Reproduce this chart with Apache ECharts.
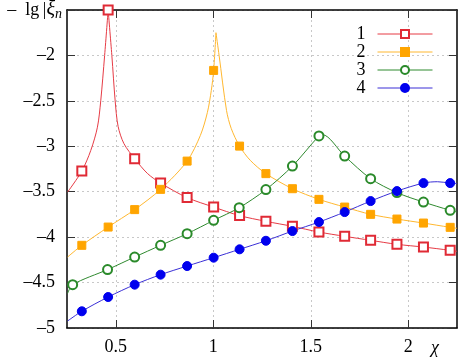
<!DOCTYPE html>
<html>
<head>
<meta charset="utf-8">
<script src="https://cdn.jsdelivr.net/npm/echarts@6/dist/echarts.min.js"></script>
<style>
  html, body { margin: 0; padding: 0; background: #fff; }
  #chart { width: 460px; height: 357px; }
</style>
</head>
<body>
<div id="chart"></div>
<script>
var xTicks = [0.5, 1, 1.5, 2];
var names = ['1', '2', '3', '4'];

// markers
var marks1 = [[0.326,-3.273],[0.461,-1.5],[0.597,-3.136],[0.730,-3.405],[0.866,-3.565],[1.002,-3.669],[1.135,-3.763],[1.270,-3.826],[1.406,-3.881],[1.542,-3.944],[1.674,-3.991],[1.807,-4.035],[1.942,-4.079],[2.078,-4.109],[2.215,-4.145]];
var marks2 = [[0.326,-4.090],[0.461,-3.889],[0.597,-3.697],[0.730,-3.474],[0.866,-3.163],[1.002,-2.165],[1.135,-2.998],[1.270,-3.301],[1.406,-3.467],[1.542,-3.584],[1.674,-3.669],[1.807,-3.749],[1.942,-3.801],[2.078,-3.845],[2.215,-3.892]];
var marks3 = [[0.279,-4.523],[0.458,-4.357],[0.597,-4.219],[0.730,-4.090],[0.866,-3.962],[1.002,-3.815],[1.133,-3.676],[1.270,-3.477],[1.406,-3.218],[1.542,-2.886],[1.674,-3.108],[1.807,-3.356],[1.942,-3.510],[2.078,-3.614],[2.215,-3.705]];
var marks4 = [[0.326,-4.816],[0.461,-4.659],[0.597,-4.523],[0.730,-4.413],[0.866,-4.318],[1.002,-4.226],[1.135,-4.134],[1.270,-4.040],[1.406,-3.933],[1.542,-3.834],[1.674,-3.724],[1.807,-3.603],[1.942,-3.493],[2.078,-3.405],[2.215,-3.405]];

// extra points on the curves between markers
var extra1 = [[0.253,-3.504],[0.372,-3.045],[0.406,-2.79],[0.423,-2.50],[0.443,-2.0],[0.480,-2.0],[0.497,-2.50],[0.512,-2.78],[0.542,-2.971],[0.662,-3.298],[2.250,-4.156]];
var extra2 = [[0.253,-4.219],[0.934,-2.88],[0.970,-2.627],[0.990,-2.385],[1.014,-1.75],[1.030,-2.0],[1.068,-2.605],[1.092,-2.803],[1.190,-3.155],[2.250,-3.903]];
var extra3 = [[0.253,-4.62],[1.560,-2.872],[2.250,-3.724]];
var extra4 = [[0.253,-4.923],[2.150,-3.390],[2.250,-3.410]];

var marks = [marks1, marks2, marks3, marks4];
var extras = [extra1, extra2, extra3, extra4];
var cusp = [true, true, false, false];

var lineColors = ['#e63b45', '#ffb830', '#2f8a2f', '#3a2fd6'];
var markColors = ['#e02a35', '#ffa500', '#2a8a2a', '#0000ee'];
var symbols = ['emptyRect', 'rect', 'emptyCircle', 'circle'];
var symbolSizes = [9, 8, 9, 9];

var serif = 'Liberation Serif';

function fmt(v) {
  return String(v).replace('-', '\u2013');
}

var series = [];
names.forEach(function(n, i) {
  series.push({
    name: n,
    type: 'line',
    data: marks[i],
    symbol: symbols[i],
    symbolSize: symbolSizes[i],
    showAllSymbol: true,
    lineStyle: { opacity: 0 },
    itemStyle: { color: markColors[i], borderColor: markColors[i], borderWidth: 1 },
    z: 5,
    silent: true
  });
  var pts = marks[i].concat(extras[i]).sort(function(a, b) { return a[0] - b[0]; });
  var branches = [pts];
  if (cusp[i]) {
    var top = 0;
    pts.forEach(function(p, k) { if (p[1] > pts[top][1]) top = k; });
    branches = [pts.slice(0, top + 1), pts.slice(top)];
  }
  branches.forEach(function(b) {
    series.push({
      name: n,
      type: 'line',
      data: b,
      symbol: 'none',
      smooth: 0.3,
      lineStyle: { color: lineColors[i], width: 1 },
      itemStyle: { color: lineColors[i] },
      z: 3,
      silent: true
    });
  });
});

var chart = echarts.init(document.getElementById('chart'), null, { renderer: 'canvas' });
chart.setOption({
  animation: false,
  backgroundColor: '#fff',
  grid: { left: 67, right: 3, top: 10, bottom: 29 },
  legend: {
    orient: 'vertical',
    right: 22,
    top: 20,
    align: 'right',
    itemWidth: 55,
    itemHeight: 10,
    itemGap: 0,
    selectedMode: false,
    data: names.map(function(n, i) {
      return { name: n, lineStyle: { opacity: 1, width: 1, color: lineColors[i] } };
    }),
    textStyle: { fontFamily: serif, fontSize: 18, lineHeight: 18, color: '#000', padding: [0, 7, 0, 0] }
  },
  xAxis: [{
    type: 'value',
    position: 'bottom',
    min: 0.25,
    max: 2.25,
    axisLine: { onZero: false, lineStyle: { color: '#000', width: 1.5 } },
    axisTick: { inside: true, length: 8, customValues: xTicks, lineStyle: { color: '#333' } },
    axisLabel: {
      customValues: xTicks, margin: 10, color: '#000',
      fontFamily: serif, fontSize: 18, formatter: fmt
    },
    splitLine: { show: true, lineStyle: { color: '#c8c8c8', type: [2, 3] } }
  }, {
    type: 'value',
    position: 'top',
    min: 0.25,
    max: 2.25,
    axisLine: { onZero: false, lineStyle: { color: '#000', width: 1.5 } },
    axisTick: { inside: true, length: 8, customValues: xTicks, lineStyle: { color: '#333' } },
    axisLabel: { show: false },
    splitLine: { show: false }
  }],
  yAxis: [{
    type: 'value',
    position: 'left',
    min: -5,
    max: -1.5,
    interval: 0.5,
    axisLine: { onZero: false, lineStyle: { color: '#000', width: 1.5 } },
    axisTick: { inside: true, length: 8, lineStyle: { color: '#333' } },
    axisLabel: {
      margin: 12, color: '#000', fontFamily: serif, fontSize: 18,
      formatter: function(v) { return v === -1.5 ? '' : fmt(v); }
    },
    splitLine: { show: true, lineStyle: { color: '#c8c8c8', type: [2, 3] } }
  }, {
    type: 'value',
    position: 'right',
    min: -5,
    max: -1.5,
    interval: 0.5,
    axisLine: { onZero: false, lineStyle: { color: '#000', width: 1.5 } },
    axisTick: { inside: true, length: 8, lineStyle: { color: '#333' } },
    axisLabel: { show: false },
    splitLine: { show: false }
  }],
  graphic: [{
    type: 'text',
    style: {
      x: 62, y: 10, align: 'right', verticalAlign: 'middle',
      text: '\u2013\u2002lg\u2009|{i|\u03be}{s|n}',
      font: '18px "Liberation Serif"',
      fill: '#000',
      rich: {
        i: { fontFamily: serif, fontSize: 20, fontStyle: 'italic', fill: '#000' },
        s: { fontFamily: serif, fontSize: 14, fontStyle: 'italic', fill: '#000', padding: [8, 0, 0, 0] }
      }
    }
  }, {
    type: 'text',
    style: {
      x: 435, y: 348, align: 'center', verticalAlign: 'middle',
      text: '\u03c7', font: 'italic 18px "Liberation Serif"', fill: '#000'
    }
  }],
  series: series
});
</script>
</body>
</html>
